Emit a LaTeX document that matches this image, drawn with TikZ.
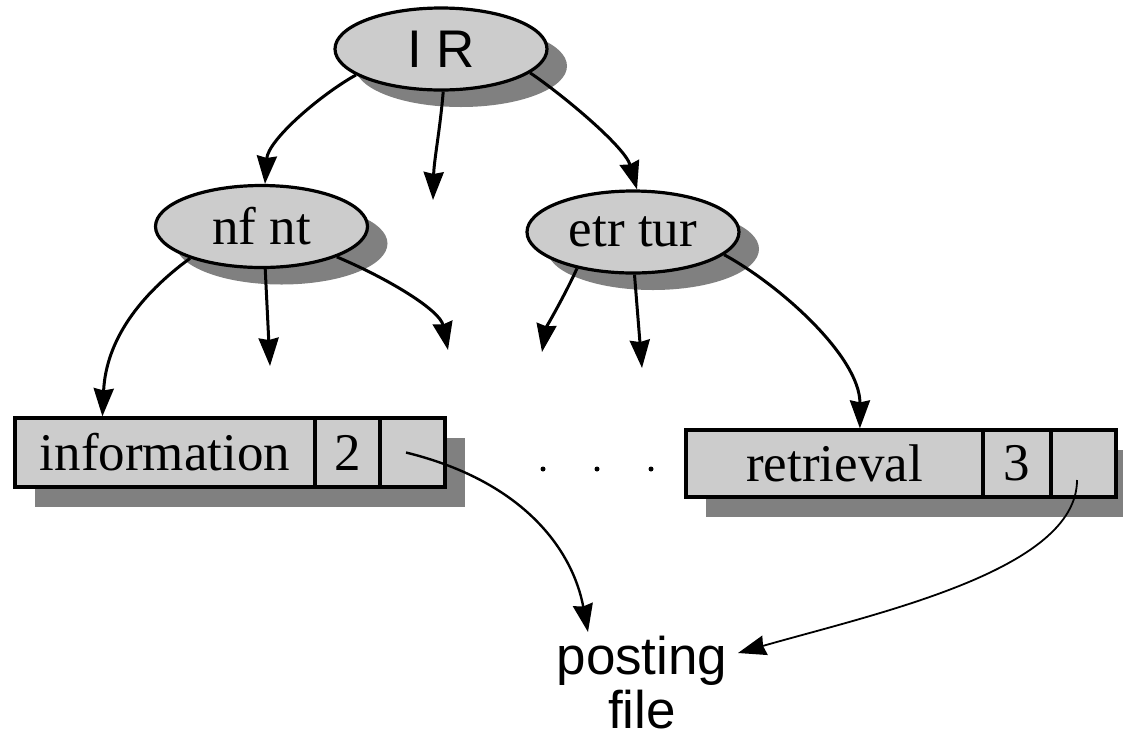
\documentclass[tikz,border=0pt]{standalone}
\usepackage{fontspec}
\setmainfont{Liberation Serif}
\newfontfamily\labelsans{Liberation Sans}
\usetikzlibrary{shapes.geometric,shadows,arrows.meta,calc}

\definecolor{boxgray}{gray}{0.8}
\definecolor{shadowgray}{gray}{0.5}

\tikzset{
  bigtext/.style={font=\fontsize{53}{56}\selectfont},
  sanstext/.style={font=\labelsans\fontsize{53}{54}\selectfont},
  keynode/.style={ellipse, draw, line width=3.2pt, fill=boxgray,
    minimum width=212pt, minimum height=82pt, inner sep=0pt, bigtext,
    drop shadow={shadow xshift=20pt, shadow yshift=-17pt, fill=shadowgray, opacity=1}},
  cell/.style={rectangle, draw, line width=3.2pt, fill=boxgray,
    minimum height=69pt, inner sep=0pt, bigtext,
    drop shadow={shadow xshift=20pt, shadow yshift=-20pt, fill=shadowgray, opacity=1}},
  link/.style={line width=3pt, -{Stealth[length=28pt, width=20pt, inset=2pt]}},
  pointer/.style={line width=2.4pt, -{Stealth[length=28pt, width=20pt, inset=2pt]}},
  dotmark/.style={circle, fill=black, inner sep=0pt, minimum size=5pt},
}

\begin{document}
\begin{tikzpicture}[x=1pt, y=-1pt]
  \useasboundingbox (0,0) rectangle (1123,740);

  % trie nodes
  \node[keynode, sanstext] (ir) at (441,49) {I R};
  \node[keynode] (nfnt) at (261.5,226.5) {nf nt};
  \node[keynode] (etr) at (633,232) {etr tur};

  % vocabulary entries
  \node[cell, minimum width=300pt] (infoword) at (165,452.5) {information};
  \node[cell, minimum width=65pt] (infocount) at (347.5,452.5) {2};
  \node[cell, minimum width=65pt] (infoptr) at (412.5,452.5) {};

  \node[cell, minimum width=297pt, minimum height=67pt] (retword) at (834.5,463.5) {retrieval};
  \node[cell, minimum width=68pt, minimum height=67pt] (retcount) at (1017,463.5) {3};
  \node[cell, minimum width=65pt, minimum height=67pt] (retptr) at (1083.5,463.5) {};

  % ellipsis between the entries
  \node[dotmark] (dota) at (543,469) {};
  \node[dotmark] (dotb) at (597,469) {};
  \node[dotmark] (dotc) at (651,469) {};

  % posting file label
  \node[sanstext, anchor=north, inner sep=0pt, align=center] (post) at (642,636) {posting\\file};

  % open branch ends
  \coordinate (irmid) at (433,200);
  \coordinate (nfmid) at (270,366);
  \coordinate (nfright) at (448,350);
  \coordinate (etrleft) at (542,352);
  \coordinate (etrmid) at (642,368);
  \coordinate (postleft) at ($(post.north)+(-54,-4)$);
  \coordinate (postright) at ($(post.north)+(96,17)$);

  % branches of the root
  \draw[link] (ir.-163.5) .. controls (320,95) and (268,140) .. ([xshift=3.5pt]nfnt.north);
  \draw[link] (ir.-87) .. controls (440,130) and (434,160) .. (irmid);
  \draw[link] (ir.-15.4) .. controls (563,95) and (625,147) .. ([xshift=4pt]etr.north);

  % branches of "nf nt"
  \draw[link] (nfnt.-156.4) .. controls (140,295) and (106,340) .. ([xshift=89pt]infoword.north west);
  \draw[link] (nfnt.-85) -- (nfmid);
  \draw[link] (nfnt.-22.6) .. controls (387,278) and (440,310) .. (nfright);

  % branches of "etr tur"
  \draw[link] (etr.-147.3) .. controls (566,293) and (546,328) .. (etrleft);
  \draw[link] (etr.-88) -- (etrmid);
  \draw[link] (etr.-14) .. controls (780,285) and (860,357) .. ([xshift=175.5pt]retword.north west);

  % pointers into the posting file
  \draw[pointer] ([xshift=-6.5pt]infoptr.center) .. controls (526,482) and (573,552) .. (postleft);
  \draw[pointer, line width=1.8pt] ([xshift=-6.5pt, yshift=-16.5pt]retptr.center) .. controls (1077,570) and (878,613) .. (postright);
\end{tikzpicture}
\end{document}
